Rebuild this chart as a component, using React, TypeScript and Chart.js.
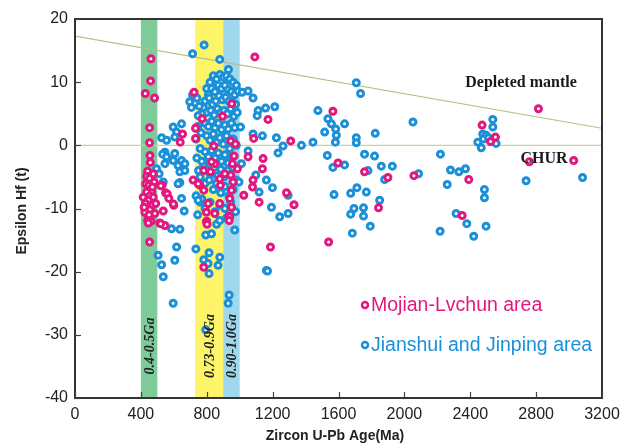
import React, { useEffect, useRef } from "react";
import { Chart, registerables } from "chart.js";

Chart.register(...registerables);

// ---- data ----
const pinkAge = [
  461, 459, 427, 483, 453, 453, 455, 457, 441, 435, 453, 475, 481, 430, 449, 465, 435, 414, 455, 475,
  445, 428, 469, 455, 424, 485, 445, 441, 462, 445, 453, 420, 490, 470, 450,
  529, 521, 550, 560, 570, 600, 536, 515, 546, 520, 598,
  723, 772, 896, 952, 732, 653, 639, 732, 843, 946, 974, 966, 956, 986, 946, 960, 950, 940, 950, 934,
  849, 782, 823, 717, 758, 782, 883, 910, 808, 798, 879, 849, 798, 940, 802, 936, 782, 829, 748, 879, 1092,
  1172, 1085, 1310, 1051, 1142, 1138, 1081, 1078, 1025, 1284, 1118, 1330, 1187,
  1566, 1597, 1758, 1900, 2058, 1843, 1540, 2814, 2472, 2553, 2523, 2759, 3028, 2391, 2351,
];
const pinkEps = [
  13.7, 10.2, 8.2, 7.5, 2.8, 0.4, -1.6, -2.7, -4.1, -4.9, -5.2, -4.5, -5.8, -6.1, -6.3, -7.4, -7.4, -8.2, -8.0, -8.2,
  -8.7, -9.2, -9.5, -10.2, -10.6, -10.8, -11.2, -11.9, -12.0, -12.3, -15.3, -9.8, -9.2, -6.6, -11.0,
  -6.3, -6.4, -7.5, -7.7, -8.4, -9.5, -10.4, -12.3, -12.7, -12.4, -9.3,
  8.4, 4.2, 4.6, 6.6, 2.7, 1.8, 0.5, 1.1, -0.1, 0.7, 0.2, -1.7, -2.9, -3.7, -4.7, -5.8, -7.1, -8.4, -9.8, -11.2,
  -2.9, -4.0, -4.2, -5.5, -6.3, -7.1, -6.3, -4.5, -9.2, -10.6, -9.2, -10.8, -12.1, -11.3, -12.5, -11.9, -19.3, -2.6, -6.1, -5.3, 14.0,
  4.1, 1.1, 0.7, -1.8, -2.1, -3.7, -5.5, -6.6, -7.9, -7.5, -9.0, -9.4, -16.1,
  5.4, -2.8, -4.2, -5.1, -4.8, -9.9, -15.3, 5.8, 3.2, 1.3, 0.6, -2.6, -2.4, -5.4, -11.1,
];

const blueAge = [
  784, 714, 879, 932,
  800, 820, 840, 860, 880, 900, 920, 940, 960, 980,
  810, 830, 850, 870, 890, 910, 930, 950, 970, 990,
  790, 815, 835, 855, 875, 895, 915, 935, 955, 975,
  780, 800, 825, 845, 865, 885, 905, 925, 945, 965, 985,
  790, 810, 830, 850, 870, 890, 910, 930, 950, 970,
  800, 820, 840, 860, 880, 900, 920, 940, 960, 980,
  790, 810, 830, 850, 870, 890, 910, 930, 950,
  780, 800, 820, 845, 865, 885, 905, 925, 960,
  760, 790, 815, 840, 860, 885, 910, 935, 960, 980,
  760, 790, 820, 850, 880, 910, 945, 975, 800, 860, 920,
  740, 755, 770, 745, 765, 735, 760, 740, 770, 750, 735, 770, 745,
  714, 697, 707, 748, 647, 596, 617, 526, 556, 606, 546, 532, 556, 546, 596, 626, 647, 667, 637, 495,
  511, 536, 637, 663, 647, 626, 586, 637, 617, 606, 505, 526, 536, 596, 734, 794, 782, 814, 808, 814,
  879, 869, 970, 936, 930, 794, 1162, 748, 829, 879, 1098, 606, 667,
  1051, 1081, 1015, 1112, 1157, 1213, 1106, 1081, 1138, 1223, 1263, 1233, 1375, 1445, 1475, 1005, 1051, 1011, 996,
  1162, 1199, 1118, 1294, 1193, 1243, 1294,
  1708, 1734, 1536, 1557, 1637, 1583, 1516, 1587, 1581, 1708, 1708, 1823, 2052, 1532, 1566, 1637, 1758, 1819,
  1779, 1860, 1927, 1880, 2086, 1573, 1674, 1712, 1769, 1850, 1694, 1752, 1674, 1752, 1793, 1684, 1169,
  2537, 2537, 2476, 2496, 2446, 2467, 2557, 2480, 2510, 2219, 2280, 2331, 2371, 2260, 2486, 2486, 2739, 3082,
  2314, 2379, 2217, 2421, 2496,
];
const blueEps = [
  15.9, 14.5, 13.6, 12.0,
  9, 10, 11, 10.5, 11.2, 10.8, 11, 10.5, 10, 9.5,
  8, 9, 8.5, 9.5, 9, 9.5, 8.8, 8.5, 8, 8.6,
  7, 7.5, 6.5, 7, 7.8, 7.2, 7.6, 7, 6.8, 6.5,
  6, 5.2, 5.5, 4.8, 5.8, 5.2, 5.5, 5, 5.8, 4.6, 5.2,
  3.5, 3, 3.8, 2.8, 3.5, 2.5, 3.2, 2.6, 3.5, 2.8,
  1.5, 0.8, 1.8, 0.5, 1.2, 0.2, 1.5, -0.5, 1, 0,
  -1, -1.8, -0.8, -2, -1.2, -2.5, -1.5, -2.8, -1.8,
  -3, -3.8, -4.5, -3.5, -4.8, -3.8, -5, -4, -3.5,
  -5, -6, -5.5, -7, -6, -7.5, -6.5, -8, -7, -5.5,
  -9, -10, -9, -10.5, -9.5, -10, -9, -10.5, -12, -12.5, -11.5,
  7.5, 6.2, 5, 3, 2, 1, -0.5, -2, -2.5, -4, -8, -8.5, -11,
  8.0, 6.9, 6.0, 4.7, 3.4, 2.9, 2.1, 1.2, 0.8, 1.3, -1.1, -1.4, -1.8, -2.9, -2.4, -3.2, -2.4, -2.9, -4.2, -3.7,
  -4.5, -5.8, -5.9, -10.4, -8.4, -6.1, -13.2, -13.3, -16.1, -18.2, -17.4, -18.9, -20.8, -25.0, -16.4, -14.2, -18.1, -17.0, -18.7, -20.3,
  -17.7, -19.0, -13.4, -23.7, -25.0, -29.2, -19.8, -8.7, -14.0, -11.9, -4.7, -1.3, -4.0,
  8.6, 7.5, 8.4, 5.5, 5.9, 6.1, 4.7, 1.8, 1.5, 1.2, -0.1, -1.2, 0, 0.5, 5.5, 2.9, -0.9, -2.9, -5.8,
  -5.5, -6.7, -7.4, -7.9, -9.8, -11.3, -10.8,
  9.9, 8.2, 4.2, 3.4, 3.4, 2.6, 2.1, 1.6, 0.5, 1.2, 0.4, 1.9, 3.7, -1.6, -3.5, -3.1, -1.4, -1.7,
  -4.0, -3.3, -3.3, -5.4, -4.5, -7.8, -7.6, -6.7, -7.4, -8.7, -10.0, -9.9, -10.9, -11.2, -12.8, -13.9, -19.9,
  4.1, 2.9, 1.8, 1.6, 0.5, -0.4, 0.3, 1.0, 1.2, -1.4, -3.9, -4.2, -3.7, -6.2, -7.0, -8.3, -5.6, -5.1,
  -10.8, -12.4, -13.6, -14.4, -12.8,
];

const dmAge = [0, 3200];
const dmEps = [17.3, 2.7];
const churAge = [0, 3200];
const churEps = [0, 0];

const bandStart = [400, 730, 900];
const bandEnd = [500, 900, 1000];
const bandLabels = ["0.4-0.5Ga", "0.73-0.9Ga", "0.90-1.0Ga"];
const bandColors = ["#7ccb98", "#fdf46a", "#9fd8ec"];

const xTicks = [0, 400, 800, 1200, 1600, 2000, 2400, 2800, 3200];
const yTicks = [-40, -30, -20, -10, 0, 10, 20];

const seriesNames = ["Mojian-Lvchun area", "Jianshui and Jinping area"];
const PINK = "#e2187e";
const BLUE = "#1a90d8";

const toXY = (xs: number[], ys: number[]) => xs.map((x, i) => ({ x, y: ys[i] }));

const decorPlugin = {
  id: "decor",
  beforeDatasetsDraw(chart: any) {
    const { ctx, chartArea, scales } = chart;
    const xs = scales.x;
    ctx.save();
    for (let i = 0; i < bandStart.length; i++) {
      const x0 = xs.getPixelForValue(bandStart[i]);
      const x1 = xs.getPixelForValue(bandEnd[i]);
      ctx.fillStyle = bandColors[i];
      ctx.fillRect(x0, chartArea.top, x1 - x0, chartArea.bottom - chartArea.top);
    }
    ctx.restore();
  },
  afterDatasetsDraw(chart: any) {
    const { ctx, chartArea, scales } = chart;
    const xs = scales.x;
    const ys = scales.y;
    ctx.save();
    // band labels
    ctx.fillStyle = "#222";
    ctx.font = "bold italic 14px 'Liberation Serif', serif";
    ctx.textAlign = "center";
    ctx.textBaseline = "middle";
    for (let i = 0; i < bandLabels.length; i++) {
      const cx = (xs.getPixelForValue(bandStart[i]) + xs.getPixelForValue(bandEnd[i])) / 2;
      ctx.save();
      ctx.translate(cx + 1, 346);
      ctx.rotate(-Math.PI / 2);
      ctx.fillText(bandLabels[i], 0, 0);
      ctx.restore();
    }
    // annotations
    ctx.font = "bold 16px 'Liberation Serif', serif";
    ctx.fillStyle = "#1a1a1a";
    ctx.fillText("Depleted mantle", 521, 83);
    ctx.fillText("CHUR", 544, 159);

    // frame
    ctx.strokeStyle = "#333";
    ctx.lineWidth = 2;
    ctx.strokeRect(chartArea.left, chartArea.top, chartArea.right - chartArea.left, chartArea.bottom - chartArea.top);
    // inward ticks
    ctx.lineWidth = 1.2;
    ctx.strokeStyle = "#444";
    for (const t of xTicks) {
      const px = Math.round(xs.getPixelForValue(t)) + 0.5;
      ctx.beginPath();
      ctx.moveTo(px, chartArea.bottom);
      ctx.lineTo(px, chartArea.bottom - 6);
      ctx.stroke();
    }
    for (const t of yTicks) {
      const py = Math.round(ys.getPixelForValue(t)) + 0.5;
      ctx.beginPath();
      ctx.moveTo(chartArea.left, py);
      ctx.lineTo(chartArea.left + 6, py);
      ctx.stroke();
    }

    // legend
    const legend = [
      { name: seriesNames[0], color: PINK, y: 305 },
      { name: seriesNames[1], color: BLUE, y: 345 },
    ];
    ctx.font = "19.5px 'Liberation Sans', Arial, sans-serif";
    ctx.textAlign = "left";
    for (const l of legend) {
      ctx.beginPath();
      ctx.arc(365, l.y, 3, 0, Math.PI * 2);
      ctx.fillStyle = "#fff";
      ctx.fill();
      ctx.lineWidth = 2.5;
      ctx.strokeStyle = l.color;
      ctx.stroke();
      ctx.fillStyle = l.color;
      ctx.fillText(l.name, 371, l.y + 1);
    }

    // axis titles
    ctx.fillStyle = "#222";
    ctx.font = "bold 14px 'Liberation Sans', Arial, sans-serif";
    ctx.textAlign = "center";
    ctx.fillText("Zircon U-Pb Age(Ma)", 335, 436);
    ctx.save();
    ctx.translate(22, 211);
    ctx.rotate(-Math.PI / 2);
    ctx.fillText("Epsilon Hf (t)", 0, 0);
    ctx.restore();
    ctx.restore();
  },
};

export default function App() {
  const ref = useRef<HTMLCanvasElement>(null);
  useEffect(() => {
    if (!ref.current) return;
    const chart = new Chart(ref.current, {
      type: "scatter",
      data: {
        datasets: [
          {
            label: seriesNames[0],
            data: toXY(pinkAge, pinkEps),
            pointRadius: 3,
            borderWidth: 3,
            borderColor: PINK,
            backgroundColor: "#ffffff",
            order: 0,
          },
          {
            label: seriesNames[1],
            data: toXY(blueAge, blueEps),
            pointRadius: 3,
            borderWidth: 3,
            borderColor: BLUE,
            backgroundColor: "#ffffff",
            order: 1,
          },
          {
            type: "line",
            label: "Depleted mantle",
            data: toXY(dmAge, dmEps),
            borderColor: "#b3c184",
            borderWidth: 1.2,
            pointRadius: 0,
            order: 2,
          } as any,
          {
            type: "line",
            label: "CHUR",
            data: toXY(churAge, churEps),
            borderColor: "#c3d59a",
            borderWidth: 1.2,
            pointRadius: 0,
            order: 3,
          } as any,
        ],
      },
      options: {
        responsive: false,
        animation: false,
        layout: { padding: { left: 0, top: 19, right: 30, bottom: 0 } },
        plugins: { legend: { display: false }, tooltip: { enabled: false } },
        scales: {
          x: {
            type: "linear",
            min: 0,
            max: 3200,
            afterBuildTicks: (s: any) => {
              s.ticks = xTicks.map((v) => ({ value: v }));
            },
            afterFit: (s: any) => {
              s.height = 48;
            },
            ticks: {
              font: { size: 16, family: "'Liberation Sans', Arial, sans-serif" },
              color: "#222",
              padding: 7,
              maxRotation: 0,
              callback: (v: any) => String(v),
            },
            grid: { display: false, drawTicks: false },
            border: { display: false },
          },
          y: {
            type: "linear",
            min: -40,
            max: 20,
            afterBuildTicks: (s: any) => {
              s.ticks = yTicks.map((v) => ({ value: v }));
            },
            afterFit: (s: any) => {
              s.width = 75;
            },
            ticks: {
              font: { size: 16, family: "'Liberation Sans', Arial, sans-serif" },
              color: "#222",
              padding: 7,
              callback: (v: any) => String(v),
            },
            grid: { display: false, drawTicks: false },
            border: { display: false },
          },
        },
      },
      plugins: [decorPlugin],
    });
    return () => chart.destroy();
  }, []);
  return (
    <div style={{ position: "fixed", left: 0, top: 0, width: 632, height: 446, background: "#fff" }}>
      <canvas ref={ref} width={632} height={446} />
    </div>
  );
}
